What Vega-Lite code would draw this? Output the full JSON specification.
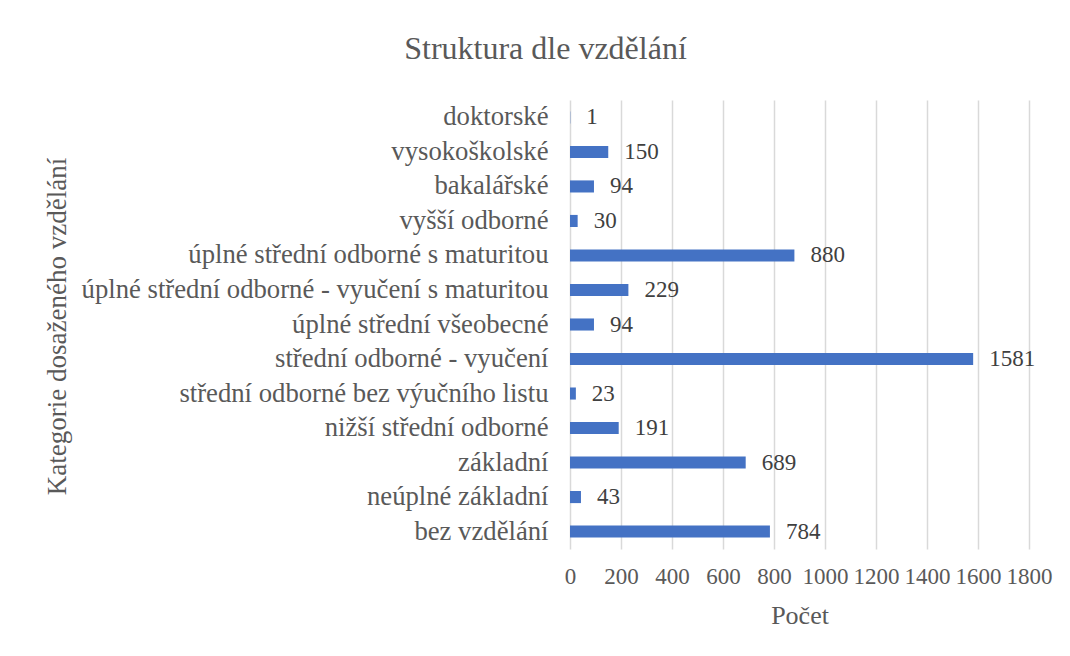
{
  "$schema": "https://vega.github.io/schema/vega-lite/v6.json",
  "autosize": {"type": "none"},
  "width": 459,
  "height": 449,
  "padding": {"left": 570, "top": 100, "right": 41, "bottom": 107},
  "background": "white",
  "config": {
    "font": "Liberation Serif",
    "view": {"stroke": null}
  },
  "title": {
    "text": "Struktura dle vzdělání",
    "fontSize": 32,
    "font": "Liberation Serif",
    "fontWeight": "normal",
    "color": "#595959",
    "anchor": "middle",
    "dx": -254,
    "offset": 34
  },
  "data": {
    "values": [
      {"kategorie": "doktorské ", "pocet": 1},
      {"kategorie": "vysokoškolské", "pocet": 150},
      {"kategorie": "bakalářské", "pocet": 94},
      {"kategorie": "vyšší odborné", "pocet": 30},
      {"kategorie": "úplné střední odborné s maturitou", "pocet": 880},
      {"kategorie": "úplné střední odborné - vyučení s maturitou", "pocet": 229},
      {"kategorie": "úplné střední všeobecné", "pocet": 94},
      {"kategorie": "střední odborné - vyučení", "pocet": 1581},
      {"kategorie": "střední odborné bez výučního listu", "pocet": 23},
      {"kategorie": "nižší střední odborné ", "pocet": 191},
      {"kategorie": "základní", "pocet": 689},
      {"kategorie": "neúplné základní", "pocet": 43},
      {"kategorie": "bez vzdělání", "pocet": 784}
    ]
  },
  "encoding": {
    "y": {
      "field": "kategorie",
      "type": "nominal",
      "sort": null,
      "scale": {"paddingInner": 0.65, "paddingOuter": 0.33},
      "axis": {
        "title": "Kategorie dosaženého vzdělání",
        "titleFont": "Liberation Serif",
        "titleFontSize": 27,
        "titleFontWeight": "normal",
        "titleColor": "#595959",
        "titleAngle": -90,
        "titleX": -505,
        "titleY": 226,
        "titleAlign": "center",
        "titleBaseline": "alphabetic",
        "labelFont": "Liberation Serif",
        "labelFontSize": 26.7,
        "labelColor": "#595959",
        "labelPadding": 22,
        "labelLimit": 520,
        "ticks": false,
        "domain": false,
        "grid": false
      }
    },
    "x": {
      "field": "pocet",
      "type": "quantitative",
      "scale": {"domain": [0, 1800], "nice": false},
      "axis": {
        "title": "Počet",
        "titleFont": "Liberation Serif",
        "titleFontSize": 26,
        "titleFontWeight": "normal",
        "titleColor": "#595959",
        "titlePadding": 14,
        "values": [0, 200, 400, 600, 800, 1000, 1200, 1400, 1600, 1800],
        "format": "d",
        "labelFont": "Liberation Serif",
        "labelFontSize": 23,
        "labelColor": "#595959",
        "labelPadding": 16,
        "labelFlush": false,
        "labelOverlap": false,
        "ticks": false,
        "domain": false,
        "grid": true,
        "gridColor": "#d9d9d9",
        "gridWidth": 1.5
      }
    }
  },
  "layer": [
    {
      "mark": {"type": "bar", "color": "#4472C4"}
    },
    {
      "mark": {
        "type": "text",
        "align": "left",
        "baseline": "middle",
        "dx": 16,
        "font": "Liberation Serif",
        "fontSize": 23,
        "color": "#404040"
      },
      "encoding": {
        "text": {"field": "pocet", "type": "quantitative", "format": "d"}
      }
    }
  ]
}
